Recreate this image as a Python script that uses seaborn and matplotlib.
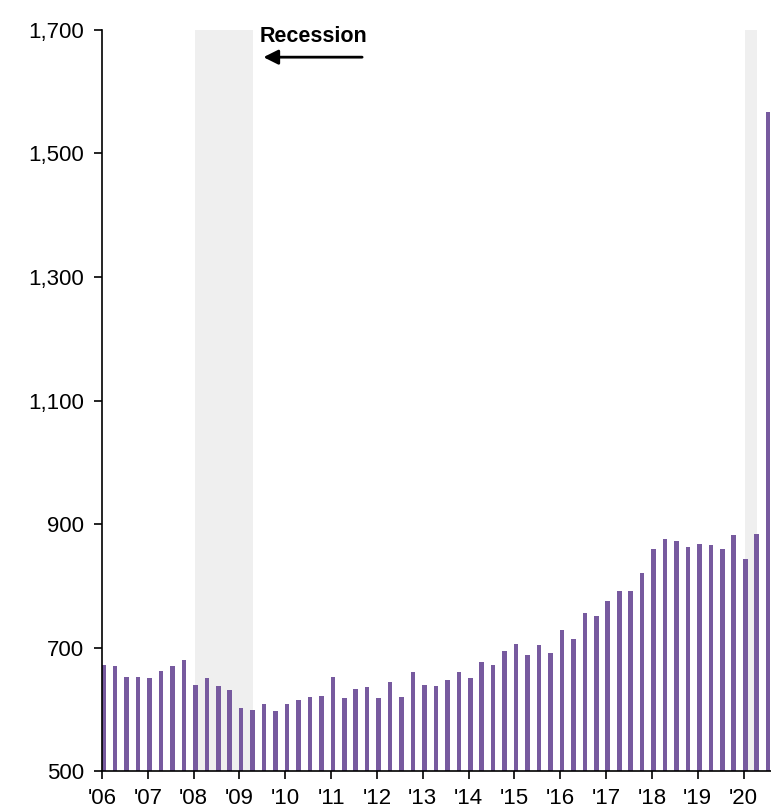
import numpy as np
import pandas as pd
import matplotlib
matplotlib.use('Agg')
import matplotlib.pyplot as plt
import seaborn as sns
from matplotlib.ticker import FuncFormatter

# quarterly values, 2006 Q1 .. 2020 Q3
values = [672, 670, 653, 652, 651, 662, 670, 679,
          640, 651, 637, 631, 602, 598, 608, 597,
          609, 615, 620, 622, 653, 618, 632, 636,
          619, 644, 620, 661, 640, 637, 647, 660,
          651, 677, 671, 694, 706, 688, 704, 691,
          728, 714, 756, 751, 776, 791, 791, 820,
          860, 875, 873, 863, 868, 866, 860, 882,
          843, 884, 1567]
quarters = [f'{y}Q{q}' for y in range(2006, 2021) for q in range(1, 5)][:len(values)]
year_labels = ["'06", "'07", "'08", "'09", "'10", "'11", "'12", "'13",
               "'14", "'15", "'16", "'17", "'18", "'19", "'20"]
recessions = [(8, 13), (56, 57)]  # quarter index spans
y_ticks = [500, 700, 900, 1100, 1300, 1500, 1700]

df = pd.DataFrame({'quarter': quarters, 'value': values})

sns.set_style('ticks')
plt.rcParams['font.family'] = ['Liberation Sans', 'DejaVu Sans']

fig = plt.figure(figsize=(7.71, 8.09), dpi=100)
ax = fig.add_axes([102 / 771, 38 / 809, 669 / 771, 741 / 809])

for start, end in recessions:
    ax.axvspan(start, end, color='#efefef', lw=0, zorder=0)

sns.barplot(data=df, x='quarter', y='value', color='#775a9f', width=0.4,
            saturation=1, linewidth=0, ax=ax, zorder=2)

ax.set_ylim(500, 1700)
ax.set_xlim(-0.15, 58.25)
ax.set_yticks(y_ticks)
ax.yaxis.set_major_formatter(FuncFormatter(lambda v, p: f'{int(v):,}'))
ax.set_xticks(np.arange(len(year_labels)) * 4 - 0.15)
ax.set_xticklabels(year_labels)
ax.set_xlabel('')
ax.set_ylabel('')
ax.tick_params(axis='both', labelsize=16, length=6, width=1.2, color='black', labelcolor='black')
ax.tick_params(axis='y', pad=7)
ax.tick_params(axis='x', pad=6)
for s in ['top', 'right']:
    ax.spines[s].set_visible(False)
for s in ['left', 'bottom']:
    ax.spines[s].set_color('black')
    ax.spines[s].set_linewidth(1.2)

ax.text(13.65, 1689, 'Recession', fontsize=15.5, fontweight='bold', color='black',
        va='center', ha='left')
ax.annotate('', xy=(13.7, 1656), xytext=(22.8, 1656),
            arrowprops=dict(arrowstyle='-|>', color='black', lw=2, mutation_scale=22))

fig.savefig('out.png', dpi=100)
